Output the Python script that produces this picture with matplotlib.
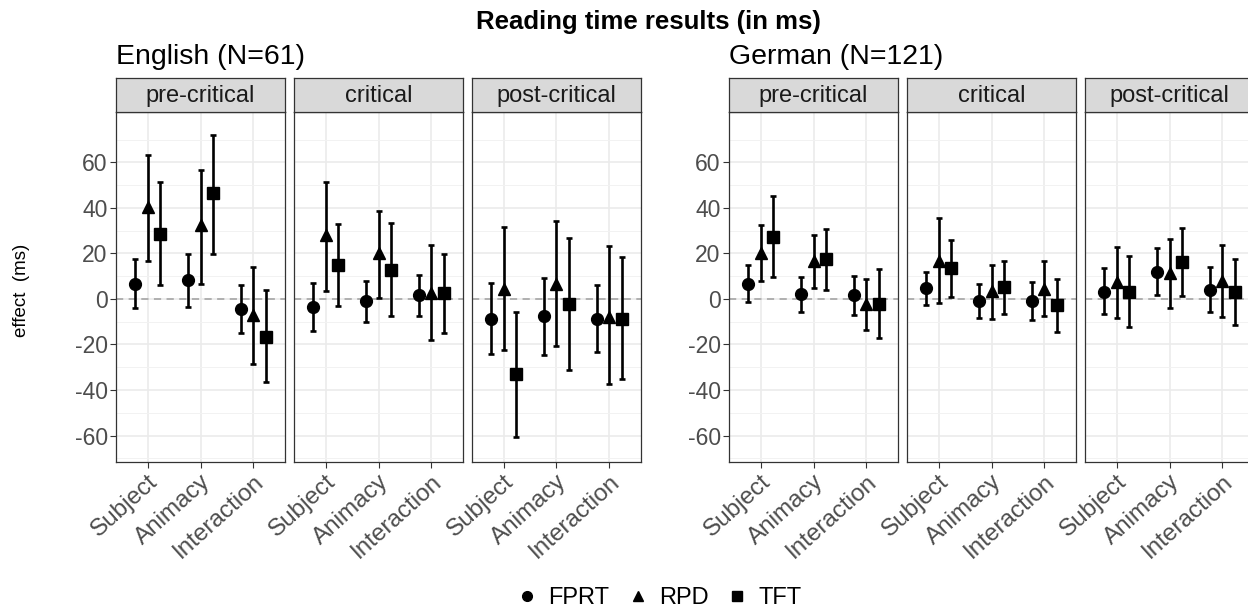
import numpy as np
import matplotlib
matplotlib.use('Agg')
import matplotlib.pyplot as plt
from matplotlib.lines import Line2D

plt.rcParams['font.family'] = ['Liberation Sans', 'DejaVu Sans']
plt.rcParams['axes.unicode_minus'] = False

# effects on the x axis, regions as facets, measures as shapes
effects = ['Subject', 'Animacy', 'Interaction']
regions = ['pre-critical', 'critical', 'post-critical']
measures = ['FPRT', 'RPD', 'TFT']

# English (N=61): 9 values per list = 3 regions x 3 effects
en_fprt = [6.7, 8.2, -4.4, -3.4, -1.0, 1.9, -8.6, -7.6, -8.8]
en_fprt_lo = [-4.1, -3.7, -14.8, -13.9, -10.0, -7.3, -24.3, -24.5, -23.4]
en_fprt_hi = [17.4, 19.9, 6.1, 7.2, 8.1, 10.5, 7.0, 9.1, 6.3]
en_rpd = [40.5, 32.5, -7.0, 28.1, 20.4, 2.5, 4.4, 6.6, -7.8]
en_rpd_lo = [16.7, 6.7, -28.4, 3.4, 0.3, -17.9, -22.4, -20.8, -37.2]
en_rpd_hi = [63.4, 56.5, 14.2, 51.4, 38.7, 23.6, 31.5, 34.4, 23.3]
en_tft = [28.4, 46.4, -16.5, 14.9, 12.7, 2.8, -32.9, -2.2, -8.6]
en_tft_lo = [6.0, 19.9, -36.6, -3.2, -7.6, -14.9, -60.8, -31.2, -35.1]
en_tft_hi = [51.5, 72.0, 3.8, 32.9, 33.2, 19.9, -5.7, 26.9, 18.6]

# German (N=121)
de_fprt = [6.7, 2.0, 1.8, 4.7, -0.7, -0.7, 3.2, 11.9, 4.0]
de_fprt_lo = [-1.3, -5.9, -7.2, -2.5, -8.2, -9.2, -6.7, 1.9, -5.6]
de_fprt_hi = [14.8, 9.8, 10.2, 11.7, 6.7, 7.5, 13.5, 22.5, 13.9]
de_rpd = [20.4, 16.7, -2.2, 16.8, 3.7, 4.4, 7.6, 11.3, 7.9]
de_rpd_lo = [7.9, 4.7, -13.5, -1.6, -8.6, -7.6, -8.5, -3.8, -8.1]
de_rpd_hi = [32.6, 28.0, 8.9, 35.4, 14.8, 16.5, 23.0, 26.5, 23.5]
de_tft = [27.2, 17.4, -2.2, 13.5, 5.1, -2.6, 2.9, 16.1, 2.9]
de_tft_lo = [9.5, 4.1, -17.3, 1.0, -6.4, -14.3, -12.3, 1.3, -11.3]
de_tft_hi = [45.1, 30.7, 13.0, 25.9, 16.5, 8.9, 18.9, 31.3, 17.4]

english = [(en_fprt, en_fprt_lo, en_fprt_hi), (en_rpd, en_rpd_lo, en_rpd_hi), (en_tft, en_tft_lo, en_tft_hi)]
german = [(de_fprt, de_fprt_lo, de_fprt_hi), (de_rpd, de_rpd_lo, de_rpd_hi), (de_tft, de_tft_lo, de_tft_hi)]

markers = ['o', '^', 's']
msizes = [8.5, 9, 8]
offsets = [-0.235, 0, 0.235]

W, H = 1248, 612
fig = plt.figure(figsize=(W / 100, H / 100), dpi=100)


def px_axes(x0, y0, x1, y1):
    # axes placed by pixel box (top-left origin)
    return fig.add_axes([x0 / W, 1 - y1 / H, (x1 - x0) / W, (y1 - y0) / H])


def draw_group(lefts, data):
    for r, left in enumerate(lefts):
        ax = px_axes(left, 112, left + 169, 462)
        ax.set_xlim(0.4, 3.6)
        ax.set_ylim(-71.6, 82.1)
        ax.set_xticks([1, 2, 3])
        ax.set_xticklabels(effects, rotation=42, ha='right', va='top',
                           rotation_mode='anchor', fontsize=17.5, color='#4D4D4D')
        ax.set_yticks(np.arange(-60, 61, 20))
        ax.set_yticks(np.arange(-70, 71, 20), minor=True)
        ax.grid(True, which='major', color='#EBEBEB', lw=1.2, zorder=0)
        ax.grid(True, which='minor', axis='y', color='#F2F2F2', lw=0.7, zorder=0)
        ax.set_axisbelow(True)
        ax.tick_params(which='minor', length=0)
        ax.tick_params(which='major', color='#333333', length=4, width=0.8)
        ax.tick_params(axis='x', pad=2)
        if r == 0:
            ax.tick_params(axis='y', labelsize=16.5, labelcolor='#4D4D4D', pad=2)
        else:
            ax.tick_params(axis='y', length=0, labelleft=False)
        for s in ax.spines.values():
            s.set_color('#333333')
            s.set_linewidth(0.9)
        ax.axhline(0, color='#ABABAB', ls=(0, (4, 3)), lw=1.3, zorder=1)

        for m, (est, lo, hi) in enumerate(data):
            x = np.arange(1, 4) + offsets[m]
            y = np.array(est[r * 3:r * 3 + 3])
            ylo = np.array(lo[r * 3:r * 3 + 3])
            yhi = np.array(hi[r * 3:r * 3 + 3])
            ax.errorbar(x, y, yerr=[y - ylo, yhi - y], fmt=markers[m], ms=msizes[m],
                        color='black', elinewidth=1.9, capsize=2.2, capthick=1.9, zorder=3)

        # facet strip
        sax = px_axes(left, 78, left + 169, 112)
        sax.set_facecolor('#D9D9D9')
        sax.set_xticks([])
        sax.set_yticks([])
        for s in sax.spines.values():
            s.set_color('#333333')
            s.set_linewidth(0.9)
        sax.text(0.5, 0.47, regions[r], ha='center', va='center', fontsize=17,
                 color='#1A1A1A', transform=sax.transAxes)


draw_group([116, 294, 472], english)
draw_group([729, 907, 1085], german)

fig.text(648 / W, 1 - 22 / H, 'Reading time results (in ms)', ha='center', va='center',
         fontsize=18.5, fontweight='bold')
fig.text(116 / W, 1 - 57 / H, 'English (N=61)', ha='left', va='center', fontsize=20.5)
fig.text(729 / W, 1 - 57 / H, 'German (N=121)', ha='left', va='center', fontsize=20.5)
fig.text(22 / W, 1 - 290 / H, 'effect  (ms)', rotation=90, ha='center', va='center', fontsize=13.5)

handles = [Line2D([], [], ls='none', marker=markers[i], ms=msizes[i] - 1.5, color='black')
           for i in range(3)]
fig.legend(handles, measures, loc='center', bbox_to_anchor=(657 / W, 1 - 598 / H), ncol=3,
           frameon=False, fontsize=17, handletextpad=0.3, columnspacing=0.6, handlelength=1.2)

fig.savefig('out.png', dpi=100)
